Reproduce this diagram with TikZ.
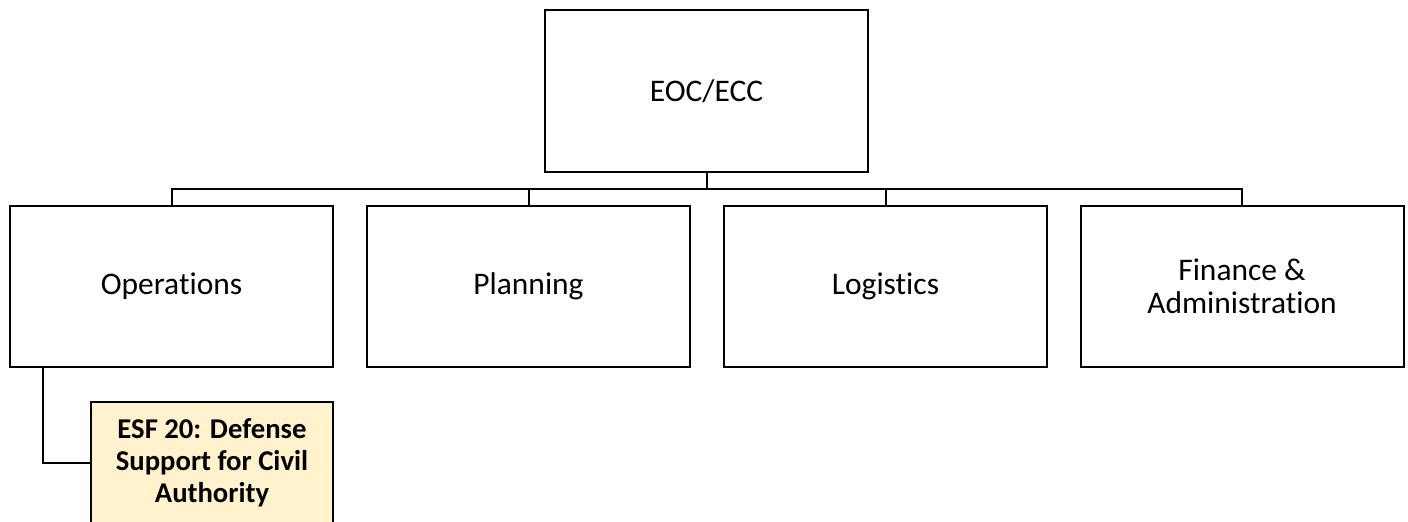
\documentclass[tikz,border=0pt]{standalone}
\usepackage{fontspec}
\setmainfont{Carlito}[Ligatures=NoCommon]
\begin{document}
\begin{tikzpicture}[x=0.75pt,y=-0.75pt,
  box/.style={draw=black,line width=1.5pt,fill=white,inner sep=0pt,align=center,
    font=\fontsize{23.6}{25}\selectfont},
  esfbox/.style={draw=black,line width=1.5pt,fill=esfyellow,inner sep=0pt,align=center,
    font=\fontsize{21.5}{24}\selectfont\bfseries},
  conn/.style={draw=black,line width=1.5pt}]
\definecolor{esfyellow}{HTML}{FFF2CC}
\useasboundingbox (0,0) rectangle (1408,521);
\node[box,minimum width=323*0.75pt,minimum height=162*0.75pt] (eoc) at (706.5,91) {EOC/ECC};
\node[box,minimum width=323*0.75pt,minimum height=161*0.75pt] (ops) at (171.5,286.5) {Operations};
\node[box,minimum width=323*0.75pt,minimum height=161*0.75pt] (plan) at (528.5,286.5) {Planning};
\node[box,minimum width=323*0.75pt,minimum height=161*0.75pt] (log) at (885.5,286.5) {Logistics};
\node[box,minimum width=323*0.75pt,minimum height=161*0.75pt] (fin) at (1242,286.5) {Finance \&\\Administration};
\node[esfbox,minimum width=242*0.75pt,minimum height=122*0.75pt] (esf) at (212,463) {ESF 20: Defense\\Support for Civil\\Authority};
\coordinate (bus) at (706.5,189);
\draw[conn] (eoc.south) -- (bus);
\draw[conn] (ops.north) |- (bus) -| (fin.north);
\draw[conn] (plan.north) -- (plan.north |- bus);
\draw[conn] (log.north) -- (log.north |- bus);
\draw[conn] ([xshift=-128.5*0.75pt]ops.south) |- (esf.west);
\end{tikzpicture}
\end{document}
